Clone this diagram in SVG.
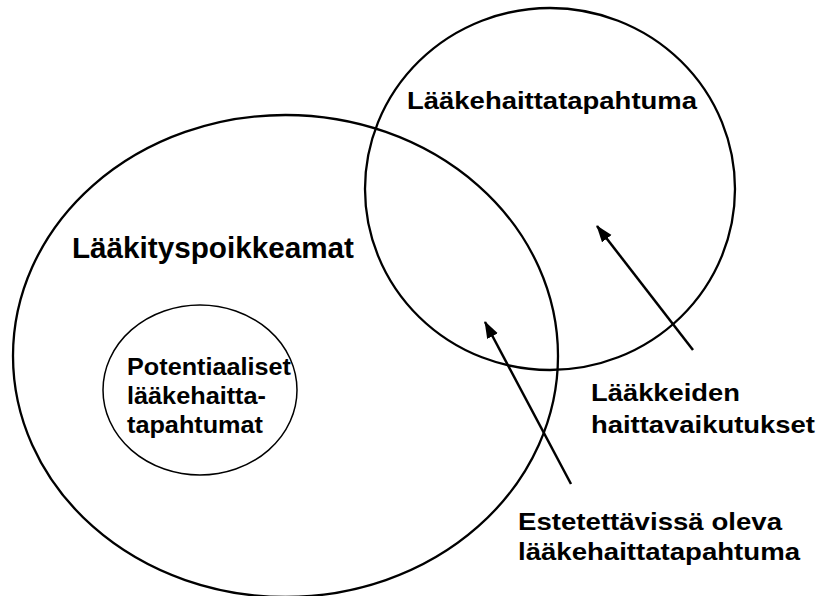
<svg xmlns="http://www.w3.org/2000/svg" width="820" height="596" viewBox="0 0 820 596">
<style>
.sh{fill:none;stroke:#000;stroke-width:2.3}
.thin{fill:none;stroke:#000;stroke-width:1.5}
.t{font-family:"Liberation Sans",Arial,sans-serif;font-weight:bold;fill:#000}
.arr{stroke:#000;stroke-width:2.5;fill:none}
</style>
<defs>
<marker id="ah" markerUnits="userSpaceOnUse" markerWidth="18" markerHeight="14" refX="16" refY="6" orient="auto">
<path d="M0,0 L17,6 L0,12 Z" fill="#000"/>
</marker>
</defs>
<rect width="820" height="596" fill="#fff"/>
<g id="lakityspoikkeamat">
<ellipse class="sh" cx="285.5" cy="356" rx="272.5" ry="241"/>
<text class="t" x="72" y="258" font-size="29.5" textLength="282" lengthAdjust="spacingAndGlyphs">Lääkityspoikkeamat</text>
</g>
<g id="laakehaittatapahtuma">
<ellipse class="sh" cx="550" cy="189" rx="185" ry="181"/>
<text class="t" x="407" y="109" font-size="24" textLength="290" lengthAdjust="spacingAndGlyphs">Lääkehaittatapahtuma</text>
</g>
<g id="potentiaaliset">
<ellipse class="thin" cx="200" cy="390" rx="97" ry="85"/>
<text class="t" x="127" y="375" font-size="24" textLength="164" lengthAdjust="spacingAndGlyphs">Potentiaaliset</text>
<text class="t" x="127" y="404" font-size="24" textLength="139" lengthAdjust="spacingAndGlyphs">lääkehaitta-</text>
<text class="t" x="127" y="433" font-size="24" textLength="136" lengthAdjust="spacingAndGlyphs">tapahtumat</text>
</g>
<g id="haittavaikutukset">
<text class="t" x="591" y="401" font-size="24" textLength="149" lengthAdjust="spacingAndGlyphs">Lääkkeiden</text>
<text class="t" x="591" y="433" font-size="24" textLength="224" lengthAdjust="spacingAndGlyphs">haittavaikutukset</text>
</g>
<g id="estettavissa">
<text class="t" x="518" y="530" font-size="24" textLength="264" lengthAdjust="spacingAndGlyphs">Estetettävissä oleva</text>
<text class="t" x="518" y="560" font-size="24" textLength="282" lengthAdjust="spacingAndGlyphs">lääkehaittatapahtuma</text>
</g>
<g id="connectors">
<line class="arr" x1="693" y1="350" x2="597" y2="226" marker-end="url(#ah)"/>
<line class="arr" x1="571" y1="484" x2="485" y2="322" marker-end="url(#ah)"/>
</g>
</svg>
